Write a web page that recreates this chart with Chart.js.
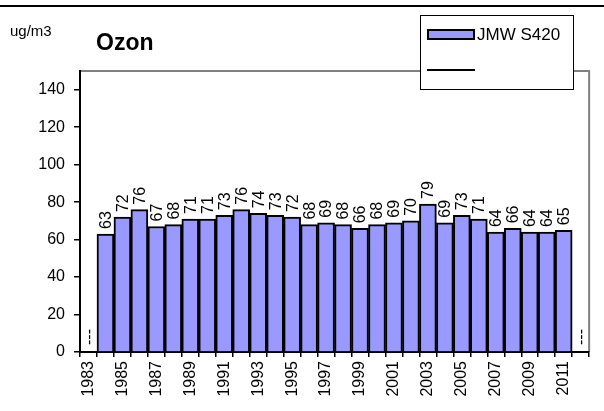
<!DOCTYPE html>
<html>
<head>
<meta charset="utf-8">
<script src="https://cdn.jsdelivr.net/npm/chart.js@4.4.0/dist/chart.umd.min.js"></script>
<style>
	body{margin:0;background:#fff;}
	#wrap{width:604px;height:411px;position:relative;}
</style>
</head>
<body>
<div id="wrap"><canvas id="grafica" width="604" height="411"></canvas></div>
<script>
// jaren en jaargemiddelden ozon (ug/m3), 1983 en 2012 zonder meting
var JAREN=['1983','1984','1985','1986','1987','1988','1989','1990','1991','1992','1993','1994','1995','1996','1997','1998','1999','2000','2001','2002','2003','2004','2005','2006','2007','2008','2009','2010','2011','2012'];
var OZON=[null,63,72,76,67,68,71,71,73,76,74,73,72,68,69,68,66,68,69,70,79,69,73,71,64,66,64,64,65,null];
var NORM=[null,null,null,null,null,null,null,null,null,null,null,null,null,null,null,null,null,null,null,null,null,null,null,null,null,null,null,null,null,null];
var Y_TICKS=[0,20,40,60,80,100,120,140];
var REEKS="JMW S420";
var EENHEID="ug/m3";
var TITEL="Ozon";

var FONT='"Liberation Sans", Arial, sans-serif';

var etiketten={
	id:'etiketten',
	afterDatasetsDraw:function(chart){
		var ctx=chart.ctx;
		var meta=chart.getDatasetMeta(0);
		var x=chart.scales.x, y=chart.scales.y;
		ctx.save();
		ctx.fillStyle='#000';
		ctx.font='16px '+FONT;
		ctx.textAlign='left';
		ctx.textBaseline='middle';
		for(var i=0;i<OZON.length;i++){
			var px=x.getPixelForValue(i);
			var py, txt;
			if(OZON[i]==null){
				txt='---';
				py=y.getPixelForValue(0)-7;
			}else{
				txt=String(OZON[i]);
				py=meta.data[i].y-5;
			}
			ctx.save();
			ctx.translate(px+1,py);
			ctx.rotate(-Math.PI/2);
			ctx.fillText(txt,0,0);
			ctx.restore();
		}
		ctx.restore();
	}
};

var kader={
	id:'kader',
	beforeDraw:function(chart){
		var ctx=chart.ctx, a=chart.chartArea;
		ctx.save();
		ctx.fillStyle='#fff';
		ctx.fillRect(0,0,chart.width,chart.height);
		ctx.strokeStyle='#808080';
		ctx.lineWidth=2;
		ctx.beginPath();
		ctx.moveTo(a.left,a.top);
		ctx.lineTo(a.right,a.top);
		ctx.lineTo(a.right,a.bottom);
		ctx.stroke();
		ctx.restore();
	},
	afterDraw:function(chart){
		var ctx=chart.ctx;
		ctx.save();
		// lijn bovenaan
		ctx.strokeStyle='#000';
		ctx.lineWidth=2;
		ctx.beginPath();
		ctx.moveTo(0,6);
		ctx.lineTo(chart.width,6);
		ctx.stroke();
		// teksten
		ctx.fillStyle='#000';
		ctx.textBaseline='middle';
		ctx.textAlign='left';
		ctx.font='15px '+FONT;
		ctx.fillText(EENHEID,10,32);
		ctx.font='bold 23px '+FONT;
		ctx.fillText(TITEL,96,44);
		// legenda
		ctx.fillStyle='#fff';
		ctx.fillRect(420,15,153,74);
		ctx.strokeStyle='#000';
		ctx.lineWidth=1;
		ctx.strokeRect(420.5,15.5,153,74);
		var ds=chart.data.datasets;
		ctx.fillStyle=ds[0].backgroundColor;
		ctx.fillRect(428,30,46,9);
		ctx.lineWidth=2;
		ctx.strokeRect(428,30,46,9);
		ctx.fillStyle='#000';
		ctx.font='17px '+FONT;
		ctx.fillText(ds[0].label,477,35);
		ctx.beginPath();
		ctx.moveTo(427,70);
		ctx.lineTo(475,70);
		ctx.stroke();
		if(ds[1].label){ctx.fillText(ds[1].label,478,70);}
		ctx.restore();
	}
};

var config={
	type:'bar',
	data:{
		labels:JAREN,
		datasets:[{
			label:REEKS,
			data:OZON,
			backgroundColor:'#9999FF',
			borderColor:'#000',
			borderWidth:2,
			categoryPercentage:1,
			barPercentage:1,
			order:2
		},{
			type:'line',
			label:'',
			data:NORM,
			borderColor:'#000',
			borderWidth:2,
			pointRadius:0,
			order:1
		}]
	},
	options:{
		responsive:false,
		animation:false,
		devicePixelRatio:1,
		layout:{padding:{top:71,right:9,left:0,bottom:0}},
		plugins:{legend:{display:false},tooltip:{enabled:false},title:{display:false}},
		scales:{
			x:{
				offset:true,
				grid:{offset:true,drawOnChartArea:false,tickLength:5,color:'#000',lineWidth:1.5},
				border:{color:'#000',width:2},
				ticks:{
					autoSkip:false,maxRotation:90,minRotation:90,padding:4,color:'#000',
					font:{family:FONT,size:16},
					callback:function(v,i){var j=parseInt(JAREN[i]);return (j%2==1)?JAREN[i]:'';}
				},
				afterFit:function(s){s.height=59;}
			},
			y:{
				min:0,max:150,
				grid:{drawOnChartArea:false,tickLength:6,color:'#000',lineWidth:1.5},
				border:{color:'#000',width:2},
				ticks:{stepSize:20,padding:9,color:'#000',font:{family:FONT,size:16}},
				afterBuildTicks:function(s){s.ticks=Y_TICKS.map(function(v){return {value:v};});},
				afterFit:function(s){s.width=80;}
			}
		}
	},
	plugins:[kader,etiketten]
};

new Chart(document.getElementById('grafica').getContext('2d'),config);
</script>
</body>
</html>
